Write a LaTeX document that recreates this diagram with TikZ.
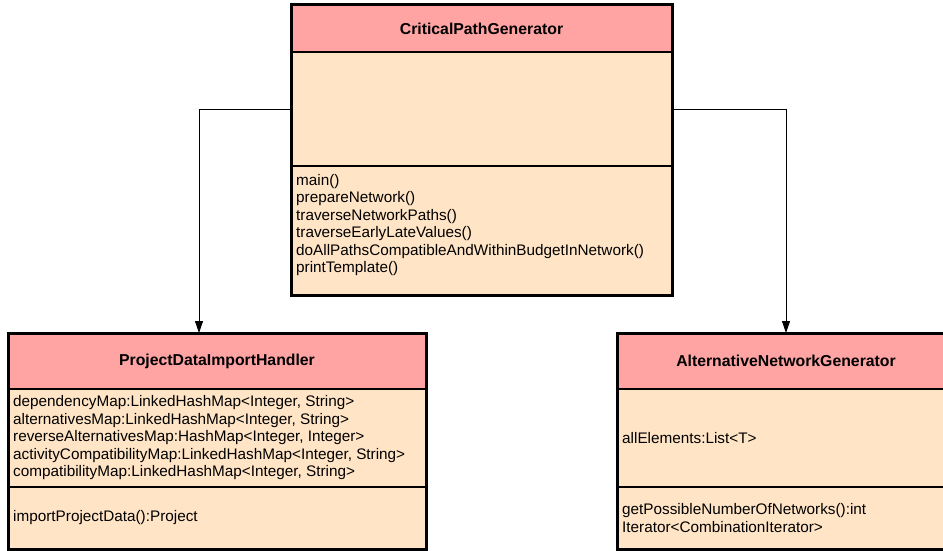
\documentclass[tikz,border=0pt]{standalone}
\usepackage{fontspec}
\setmainfont{Liberation Sans}
\usetikzlibrary{arrows.meta}
\definecolor{hdrpink}{HTML}{FFA3A3}
\definecolor{bodytan}{HTML}{FFE5C6}
\begin{document}
\begin{tikzpicture}[x=1pt,y=-1pt,
  hdrbox/.style={draw, line width=1.5pt, fill=hdrpink, inner sep=0pt, outer sep=0pt,
    anchor=north west, font=\fontsize{15.8}{18}\selectfont\bfseries},
  secbox/.style={draw, line width=1.5pt, fill=bodytan, inner sep=0pt, outer sep=0pt,
    anchor=north west},
  frame/.style={draw, line width=3pt},
  txt/.style={font=\fontsize{15.3}{17.5}\selectfont, align=left, inner sep=0pt, anchor=west},
  txttop/.style={txt, anchor=north west},
  conn/.style={draw, line width=0.8pt, -{Triangle[width=8pt,length=12pt]}}
]
\useasboundingbox (0,0) rectangle (943,551);
\clip (0,0) rectangle (943,551);

% CriticalPathGenerator
\node[hdrbox, minimum width=381, minimum height=47] (cpgH) at (291,5) {CriticalPathGenerator};
\node[secbox, minimum width=381, minimum height=114] (cpgA) at (291,52) {};
\node[secbox, minimum width=381, minimum height=129] (cpgM) at (291,166) {};
\draw[frame] (cpgH.north west) rectangle (cpgM.south east);
\node[txttop] (cpgMt) at ([xshift=5pt,yshift=-8pt]cpgM.north west)
  {main()\\prepareNetwork()\\traverseNetworkPaths()\\traverseEarlyLateValues()\\doAllPathsCompatibleAndWithinBudgetInNetwork()\\printTemplate()};

% ProjectDataImportHandler
\node[hdrbox, minimum width=418, minimum height=56] (pdiH) at (8,333) {ProjectDataImportHandler};
\node[secbox, minimum width=418, minimum height=98] (pdiA) at (8,389) {};
\node[secbox, minimum width=418, minimum height=62] (pdiM) at (8,487) {};
\draw[frame] (pdiH.north west) rectangle (pdiM.south east);
\node[txt] (pdiAt) at ([xshift=5pt]pdiA.west)
  {dependencyMap:LinkedHashMap<Integer, String>\\alternativesMap:LinkedHashMap<Integer, String>\\reverseAlternativesMap:HashMap<Integer, Integer>\\activityCompatibilityMap:LinkedHashMap<Integer, String>\\compatibilityMap:LinkedHashMap<Integer, String>};
\node[txt] (pdiMt) at ([xshift=5pt]pdiM.west) {importProjectData():Project};

% AlternativeNetworkGenerator
\node[hdrbox, minimum width=338, minimum height=56] (angH) at (617,333) {AlternativeNetworkGenerator};
\node[secbox, minimum width=338, minimum height=98] (angA) at (617,389) {};
\node[secbox, minimum width=338, minimum height=62] (angM) at (617,487) {};
\draw[frame] (angH.north west) rectangle (angM.south east);
\node[txt] (angAt) at ([xshift=5pt]angA.west) {allElements:List<T>};
\node[txt] (angMt) at ([xshift=5pt]angM.west) {getPossibleNumberOfNetworks():int\\Iterator<CombinationIterator>};

% connectors
\draw[conn] (cpgA.west) -| ([xshift=-18pt]pdiH.north);
\draw[conn] (cpgA.east) -| (angH.north);
\end{tikzpicture}
\end{document}
